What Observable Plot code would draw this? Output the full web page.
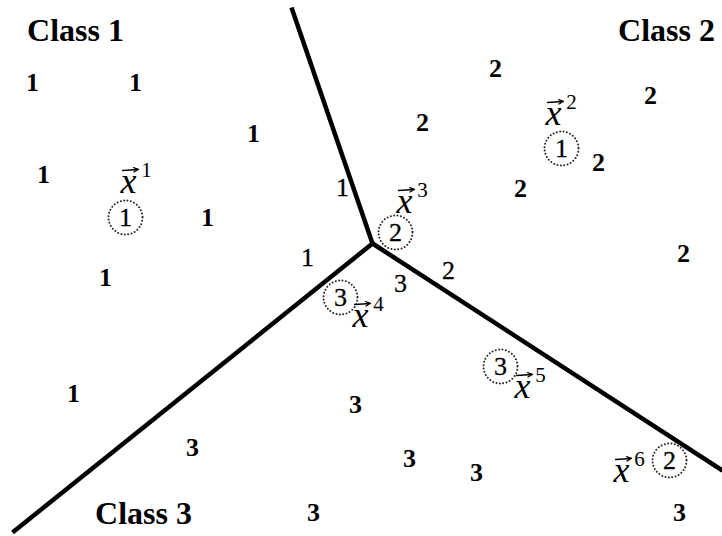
<!DOCTYPE html>
<html>
<head>
<meta charset="utf-8">
<script src="https://cdn.jsdelivr.net/npm/d3@7"></script>
<script src="https://cdn.jsdelivr.net/npm/@observablehq/plot@0.6"></script>
<style>
  html, body { margin: 0; padding: 0; background: #fff; }
  #chart svg { display: block; }
</style>
</head>
<body>
<div id="chart"></div>
<script>
// Feature space: x1 runs left→right, x2 runs bottom→top.
const W = 722, H = 536;

// Decision boundaries meet at one junction point.
const junction = {x1: 372, x2: 293};
const boundaryEnds = [
  {x1: 291, x2: 529},
  {x1: 722, x2: 66},
  {x1: 12,  x2: 4}
];

// Training samples, labelled by class (bold marks are ordinary samples).
const class1 = [
  {x1: 32,  x2: 454, bold: true},
  {x1: 135, x2: 454, bold: true},
  {x1: 253, x2: 403, bold: true},
  {x1: 43,  x2: 362, bold: true},
  {x1: 207, x2: 319, bold: true},
  {x1: 105, x2: 259, bold: true},
  {x1: 73,  x2: 143, bold: true},
  {x1: 342, x2: 349, bold: false},
  {x1: 307, x2: 279, bold: false}
];
const class2 = [
  {x1: 495, x2: 468, bold: true},
  {x1: 422, x2: 414, bold: true},
  {x1: 650, x2: 441, bold: true},
  {x1: 598, x2: 374, bold: true},
  {x1: 520, x2: 348, bold: true},
  {x1: 683, x2: 283, bold: true},
  {x1: 448, x2: 266, bold: false}
];
const class3 = [
  {x1: 355, x2: 132, bold: true},
  {x1: 192, x2: 89,  bold: true},
  {x1: 409, x2: 78,  bold: true},
  {x1: 476, x2: 64,  bold: true},
  {x1: 313, x2: 24,  bold: true},
  {x1: 679, x2: 24,  bold: true},
  {x1: 400, x2: 253, bold: false}
];

// Highlighted samples x^1 … x^6: position, assigned label, and where the name sits.
const highlighted = [
  {i: 1, x1: 125, x2: 319, label: "1", nx1: 128, nx2: 355},
  {i: 2, x1: 561, x2: 388, label: "1", nx1: 553, nx2: 423},
  {i: 3, x1: 395, x2: 304, label: "2", nx1: 404, nx2: 335},
  {i: 4, x1: 340, x2: 239, label: "3", nx1: 360, nx2: 221},
  {i: 5, x1: 500, x2: 170, label: "3", nx1: 522, nx2: 150},
  {i: 6, x1: 669, x2: 76,  label: "2", nx1: 621, nx2: 66}
];

// Region titles.
const regionTitles = [
  {x1: 75,  x2: 506, text: "Class 1"},
  {x1: 666, x2: 506, text: "Class 2"},
  {x1: 143, x2: 23,  text: "Class 3"}
];

const samples = [
  ...class1.map(d => ({...d, label: "1"})),
  ...class2.map(d => ({...d, label: "2"})),
  ...class3.map(d => ({...d, label: "3"}))
];

const serif = "Liberation Serif";

const chart = Plot.plot({
  width: W,
  height: H,
  margin: 0,
  x: {domain: [0, W], axis: null},
  y: {domain: [0, H], axis: null},
  style: {background: "#fff"},
  marks: [
    Plot.link(boundaryEnds, {
      x1: () => junction.x1, y1: () => junction.x2,
      x2: "x1", y2: "x2",
      stroke: "#000", strokeWidth: 4.5, strokeLinecap: "butt"
    }),
    Plot.text(samples.filter(d => d.bold), {
      x: "x1", y: "x2", text: "label",
      fontFamily: serif, fontWeight: "bold", fontSize: 26, fill: "#000"
    }),
    Plot.text(samples.filter(d => !d.bold), {
      x: "x1", y: "x2", text: "label",
      fontFamily: serif, fontSize: 26, fill: "#000", stroke: "#000", strokeWidth: 0.3
    }),
    Plot.dot(highlighted, {
      x: "x1", y: "x2", r: 17,
      stroke: "#222", strokeWidth: 2, fill: "none",
      strokeDasharray: "0,3.4", strokeLinecap: "round"
    }),
    Plot.text(highlighted, {
      x: "x1", y: "x2", text: "label",
      fontFamily: serif, fontSize: 26, fill: "#000", stroke: "#000", strokeWidth: 0.3
    }),
    // vector name: italic x with an arrow accent, then a superscript index
    Plot.text(highlighted, {
      x: "nx1", y: "nx2", text: () => "x",
      fontFamily: serif, fontStyle: "italic", fontSize: 36, fill: "#000"
    }),
    Plot.arrow(highlighted, {
      x1: d => d.nx1 - 6, x2: d => d.nx1 + 10,
      y1: d => d.nx2 + 11, y2: d => d.nx2 + 12,
      stroke: "#000", strokeWidth: 1.3, headLength: 6, headAngle: 50, bend: false
    }),
    Plot.text(highlighted, {
      x: "nx1", y: "nx2", text: d => String(d.i),
      dx: 18, dy: -11, fontFamily: serif, fontSize: 21, fill: "#000"
    }),
    Plot.text(regionTitles, {
      x: "x1", y: "x2", text: "text",
      fontFamily: serif, fontWeight: "bold", fontSize: 32, fill: "#000"
    })
  ]
});

document.getElementById("chart").append(chart);
</script>
</body>
</html>
